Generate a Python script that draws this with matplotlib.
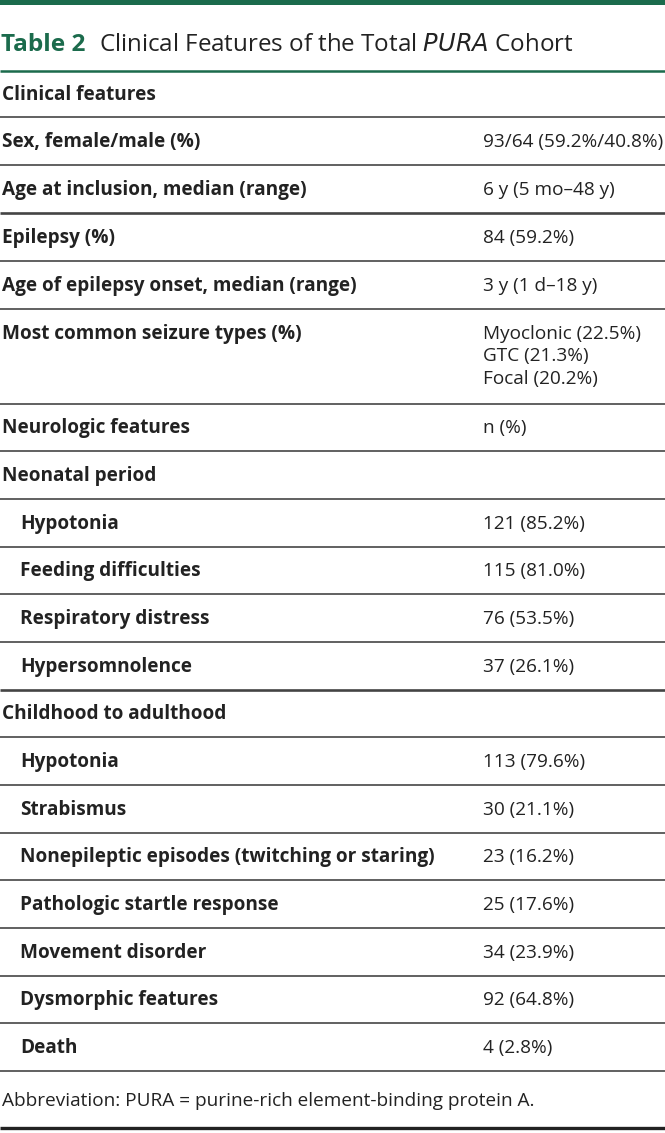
import matplotlib
matplotlib.use("Agg")
import matplotlib.pyplot as plt

title_label = "Table 2"
title_text = "Clinical Features of the Total $\\it{PURA}$ Cohort"

labels = [
    "Clinical features",
    "Sex, female/male (%)",
    "Age at inclusion, median (range)",
    "Epilepsy (%)",
    "Age of epilepsy onset, median (range)",
    "Most common seizure types (%)",
    "Neurologic features",
    "Neonatal period",
    "Hypotonia",
    "Feeding difficulties",
    "Respiratory distress",
    "Hypersomnolence",
    "Childhood to adulthood",
    "Hypotonia",
    "Strabismus",
    "Nonepileptic episodes (twitching or staring)",
    "Pathologic startle response",
    "Movement disorder",
    "Dysmorphic features",
    "Death",
]
values = [
    [],
    ["93/64 (59.2%/40.8%)"],
    ["6 y (5 mo\u201348 y)"],
    ["84 (59.2%)"],
    ["3 y (1 d\u201318 y)"],
    ["Myoclonic (22.5%)", "GTC (21.3%)", "Focal (20.2%)"],
    ["n (%)"],
    [],
    ["121 (85.2%)"],
    ["115 (81.0%)"],
    ["76 (53.5%)"],
    ["37 (26.1%)"],
    [],
    ["113 (79.6%)"],
    ["30 (21.1%)"],
    ["23 (16.2%)"],
    ["25 (17.6%)"],
    ["34 (23.9%)"],
    ["92 (64.8%)"],
    ["4 (2.8%)"],
]
indented = [False]*8 + [True]*4 + [False] + [True]*7
footnote = "Abbreviation: PURA = purine-rich element-binding protein A."

W, H = 665, 1133
fig = plt.figure(figsize=(W/100, H/100), dpi=100)
ax = fig.add_axes([0, 0, 1, 1])
ax.set_xlim(0, W)
ax.set_ylim(H, 0)
ax.axis("off")

green = "#1b6b4c"
gray = "#606060"
txt = "#222222"
font = "Open Sans"
fs = 13.7
base_off = 6.8  # baseline offset from visual centre of caps

# top bar
ax.axhspan(0, 5, color=green, lw=0)
ax.text(1, 51, title_label, fontsize=17.6, fontweight="bold", color=green,
        family=font, va="baseline", ha="left")
ax.text(99, 51, title_text, fontsize=17.4, color=txt, family=font,
        va="baseline", ha="left")
ax.plot([0, W], [71, 71], color=green, lw=1.8, solid_capstyle="butt")

# row boundaries
bounds = [71, 117, 165, 213, 261, 309, 404, 451, 499, 547, 594, 642, 690,
          737, 785, 833, 880, 928, 976, 1023, 1071]
thick = {213, 690}
for b in bounds[1:]:
    ax.plot([0, W], [b, b], color=("#444444" if b in thick else gray),
            lw=(1.9 if b in thick else 1.4), solid_capstyle="butt")

line_step = 22.5
for i, (lab, vals) in enumerate(zip(labels, values)):
    top, bot = bounds[i], bounds[i+1]
    if len(vals) > 1:
        y0 = top + 23
    else:
        y0 = (top + bot) / 2 - 1
    x = 20 if indented[i] else 2
    ax.text(x, y0 + base_off, lab, fontsize=fs, fontweight="bold", color=txt,
            family=font, va="baseline", ha="left")
    for k, v in enumerate(vals):
        ax.text(483, y0 + k*line_step + base_off, v, fontsize=fs, color=txt,
                family=font, va="baseline", ha="left")

ax.text(2, 1099 + base_off, footnote, fontsize=fs, color=txt, family=font,
        va="baseline", ha="left")
ax.plot([0, W], [1128, 1128], color="#222222", lw=2.4, solid_capstyle="butt")

fig.savefig("out.png", dpi=100)
